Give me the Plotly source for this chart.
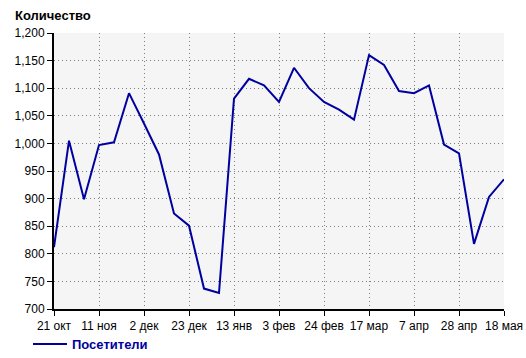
import plotly.graph_objects as go

dates = [
    "2013-10-21", "2013-10-28", "2013-11-04", "2013-11-11", "2013-11-18", "2013-11-25",
    "2013-12-02", "2013-12-09", "2013-12-16", "2013-12-23", "2013-12-30", "2014-01-06",
    "2014-01-13", "2014-01-20", "2014-01-27", "2014-02-03", "2014-02-10", "2014-02-17",
    "2014-02-24", "2014-03-03", "2014-03-10", "2014-03-17", "2014-03-24", "2014-03-31",
    "2014-04-07", "2014-04-14", "2014-04-21", "2014-04-28", "2014-05-05", "2014-05-12",
    "2014-05-19",
]
visitors = [812, 1005, 899, 997, 1002, 1091, 1036, 980, 873, 851, 737, 729, 1081, 1117,
            1105, 1075, 1137, 1100, 1075, 1061, 1043, 1160, 1142, 1095, 1091, 1105, 998,
            982, 818, 903, 935]
tick_dates = dates[::3]
tick_labels = ["21 окт", "11 ноя", "2 дек", "23 дек", "13 янв", "3 фев", "24 фев",
               "17 мар", "7 апр", "28 апр", "18 мая"]
series_name = "Посетители"
y_title = "Количество"

W, H = 526, 358
L, R, T, B = 54, 22, 33, 49

fig = go.Figure()
fig.add_trace(go.Scatter(
    x=dates, y=visitors, mode="lines", name=series_name,
    line=dict(color="#0000a0", width=2),
))

font_family = "Liberation Sans, Arial, sans-serif"
grid_dash = "1px,3px"
fig.update_layout(
    width=W, height=H,
    margin=dict(l=L, r=R, t=T, b=B, pad=0, autoexpand=False),
    paper_bgcolor="white", plot_bgcolor="#f5f5f5",
    font=dict(family=font_family, size=12, color="black"),
    showlegend=True,
    legend=dict(
        orientation="h", xref="container", yref="container",
        x=28 / W, xanchor="left",
        y=1 - 344 / H, yanchor="middle",
        font=dict(family=font_family, size=13, color="#0000a0", weight="bold"),
        bgcolor="rgba(0,0,0,0)", itemwidth=34,
    ),
    title=dict(
        text=y_title, xref="container", yref="container",
        x=15 / W, xanchor="left", y=1 - 15 / H, yanchor="middle",
        font=dict(family=font_family, size=13, color="black", weight="bold"),
    ),
    xaxis=dict(
        type="date", range=[dates[0], dates[-1]], automargin=False,
        tickvals=tick_dates, ticktext=tick_labels,
        showgrid=True, gridcolor="#808080", gridwidth=1, griddash=grid_dash,
        showline=True, linecolor="black", linewidth=2,
        ticks="outside", ticklen=5, tickcolor="black", tickwidth=1,
        tickfont=dict(size=12, color="black"), zeroline=False, tickangle=0,
    ),
    yaxis=dict(
        range=[700, 1200], dtick=50, tick0=700, tickformat=",", automargin=False,
        showgrid=True, gridcolor="#808080", gridwidth=1, griddash=grid_dash,
        showline=True, linecolor="black", linewidth=2,
        ticks="outside", ticklen=5, tickcolor="black", tickwidth=1,
        tickfont=dict(size=12, color="black"), zeroline=False,
    ),
)

fig.write_html("out.html")
